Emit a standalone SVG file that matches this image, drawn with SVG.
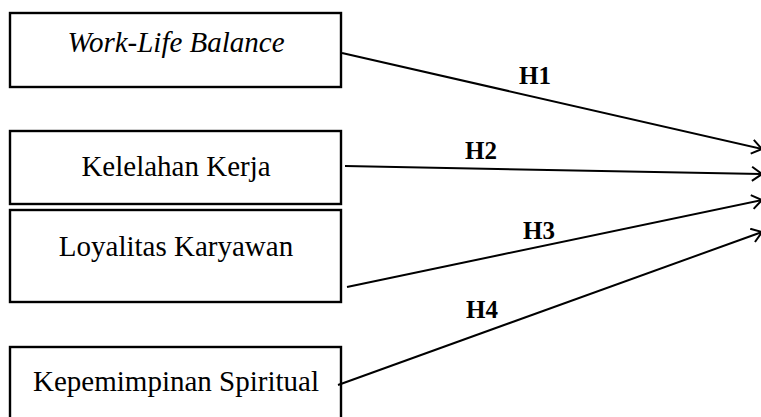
<svg xmlns="http://www.w3.org/2000/svg" width="761" height="417" viewBox="0 0 761 417">
<style>
.box{fill:#fff;stroke:#000;stroke-width:2.4}
.t{font-family:"Liberation Serif","Times New Roman",serif;font-size:29px;fill:#000;text-anchor:middle}
.lbl{font-family:"Liberation Serif","Times New Roman",serif;font-size:25px;font-weight:bold;fill:#000;text-anchor:middle}
.c{stroke:#000;stroke-width:2;fill:none;marker-end:url(#arr)}
</style>
<defs>
<marker id="arr" viewBox="0 0 12 16" refX="11" refY="8" markerWidth="12" markerHeight="16" markerUnits="userSpaceOnUse" orient="auto">
<path d="M1,1 L11,8 L1,15" fill="none" stroke="#000" stroke-width="2"/>
</marker>
</defs>
<rect width="761" height="417" fill="#fff"/>
<g id="n1"><rect class="box" x="10" y="13" width="331" height="74"/><text class="t" x="176" y="52" font-style="italic">Work-Life Balance</text></g>
<g id="n2"><rect class="box" x="10" y="131" width="331" height="73"/><text class="t" x="176" y="176">Kelelahan Kerja</text></g>
<g id="n3"><rect class="box" x="10" y="210" width="331" height="92"/><text class="t" x="176" y="256">Loyalitas Karyawan</text></g>
<g id="n4"><rect class="box" x="10" y="347" width="331" height="100"/><text class="t" x="176" y="391">Kepemimpinan Spiritual</text></g>
<g id="edges">
<line class="c" x1="342" y1="53" x2="762" y2="149"/>
<line class="c" x1="345" y1="166" x2="762" y2="174"/>
<line class="c" x1="347" y1="287" x2="762" y2="200"/>
<line class="c" x1="338" y1="385" x2="762" y2="232"/>
<text class="lbl" x="535" y="84">H1</text>
<text class="lbl" x="481" y="159">H2</text>
<text class="lbl" x="539" y="239">H3</text>
<text class="lbl" x="482" y="318">H4</text>
</g>
</svg>
